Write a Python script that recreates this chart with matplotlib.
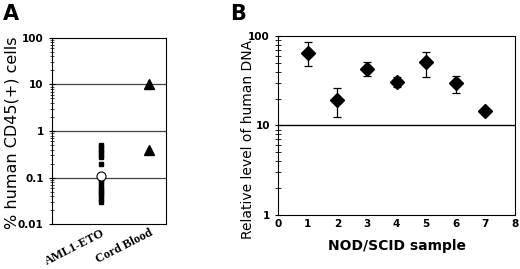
import numpy as np
import matplotlib.pyplot as plt
import matplotlib.transforms as mtransforms
from matplotlib.ticker import LogLocator, NullFormatter

# panel A data
cat_labels = ['AML1-ETO', 'Cord Blood']
aml_vals = [0.5, 0.45, 0.4, 0.35, 0.3, 0.27, 0.2, 0.1, 0.09, 0.08, 0.07,
            0.06, 0.055, 0.05, 0.045, 0.04, 0.035, 0.03]
aml_mean = 0.11
cord_vals = [10, 0.4]

# panel B data
samples = [1, 2, 3, 4, 5, 6, 7]
dna = [65, 19.5, 43, 31, 51, 30, 14.6]
err_hi = [85, 26.5, 51, 34.5, 67, 36, 14.6]
err_lo = [46, 12.3, 35.5, 26.8, 35, 23.3, 14.6]

fig = plt.figure(figsize=(5.2, 2.69), dpi=100)

axA = fig.add_axes([0.1, 0.167, 0.219, 0.692])
axA.set_yscale('log')
axA.set_ylim(0.01, 100)
axA.set_xlim(-0.02, 2.35)
for g in [0.1, 1, 10]:
    axA.axhline(g, color='#444444', lw=0.9, zorder=1)
axA.plot([1] * len(aml_vals), aml_vals, 's', color='black', ms=2.8, zorder=3)
axA.plot([1], [aml_mean], 'o', mfc='white', mec='black', ms=6.5, mew=0.8, zorder=4)
axA.plot([2] * len(cord_vals), cord_vals, '^', color='black', ms=7, zorder=3)
axA.set_xticks([1, 2])
axA.set_xticklabels(cat_labels, rotation=27, ha='right', rotation_mode='anchor',
                    family='Liberation Serif', fontweight='bold', fontsize=9)
shift = mtransforms.ScaledTranslation(12 / 100, 0, fig.dpi_scale_trans)
for lab in axA.get_xticklabels():
    lab.set_transform(lab.get_transform() + shift)
axA.tick_params(axis='x', length=0, pad=2)
axA.set_yticks([0.01, 0.1, 1, 10, 100])
axA.set_yticklabels(['0.01', '0.1', '1', '10', '100'], fontweight='bold', fontsize=7.5)
axA.yaxis.set_minor_locator(LogLocator(base=10, subs=np.arange(2, 10)))
axA.yaxis.set_minor_formatter(NullFormatter())
axA.tick_params(axis='y', which='major', direction='inout', length=5, width=0.8)
axA.tick_params(axis='y', which='minor', direction='inout', length=3, width=0.5)
axA.set_ylabel('% human CD45(+) cells', fontsize=11.5)
axA.yaxis.set_label_coords(-0.285, 0.49)
for s in axA.spines.values():
    s.set_linewidth(0.8)

axB = fig.add_axes([0.535, 0.201, 0.455, 0.665])
axB.set_yscale('log')
axB.set_ylim(1, 100)
axB.set_xlim(0, 8)
axB.axhline(10, color='black', lw=1.0, zorder=1)
yerr = [np.array(dna) - np.array(err_lo), np.array(err_hi) - np.array(dna)]
axB.errorbar(samples, dna, yerr=yerr, fmt='D', color='black', ms=7,
             capsize=3, elinewidth=0.9, capthick=0.9, zorder=3)
axB.set_xticks(range(0, 9))
axB.set_xticklabels([str(i) for i in range(0, 9)], fontweight='bold', fontsize=7.5)
axB.tick_params(axis='x', length=0, pad=3)
axB.set_yticks([1, 10, 100])
axB.set_yticklabels(['1', '10', '100'], fontweight='bold', fontsize=7.5)
axB.yaxis.set_minor_locator(LogLocator(base=10, subs=np.arange(2, 10)))
axB.yaxis.set_minor_formatter(NullFormatter())
axB.tick_params(axis='y', which='major', direction='inout', length=5, width=0.8)
axB.tick_params(axis='y', which='minor', direction='inout', length=4, width=0.6)
axB.set_xlabel('NOD/SCID sample', fontsize=10, fontweight='bold', labelpad=7)
axB.set_ylabel('Relative level of human DNA', fontsize=10)
axB.yaxis.set_label_coords(-0.1, 0.42)
for s in axB.spines.values():
    s.set_linewidth(0.8)

fig.text(0.006, 0.985, 'A', fontsize=15, fontweight='bold', va='top', ha='left')
fig.text(0.443, 0.985, 'B', fontsize=15, fontweight='bold', va='top', ha='left')

fig.savefig('out.png', dpi=100)
